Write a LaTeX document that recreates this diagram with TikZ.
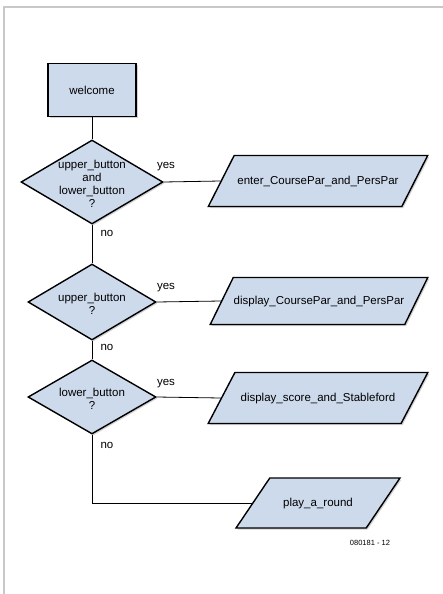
\documentclass[tikz,border=0pt]{standalone}
\usepackage{fontspec}
\setmainfont{Liberation Sans}
\usepackage{tikz}
\usetikzlibrary{shapes.geometric,shadows}
\definecolor{boxfill}{HTML}{CDDAEC}
\definecolor{framegray}{HTML}{C8C8C8}
\newcommand\askgap{\rule{0pt}{0pt}\\[-1pt]}
\tikzset{
  shadowed/.style={draw, line width=1.4pt, fill=boxfill,
    drop shadow={shadow xshift=1.5pt, shadow yshift=-1.5pt, fill=black!35}},
  actbox/.style={shadowed, rectangle, minimum width=88pt, minimum height=53pt, inner sep=0pt},
  ask/.style={shadowed, diamond, shape aspect=1.7, inner sep=-10pt, align=center},
  io/.style={shadowed, trapezium, trapezium left angle=64, trapezium right angle=116,
    trapezium stretches=true, inner xsep=0pt, text height=8.5pt, text depth=2.5pt},
  wire/.style={line width=0.8pt},
  tag/.style={inner sep=0pt}
}
\begin{document}
\begin{tikzpicture}[x=1pt, y=-1pt, font=\fontsize{11.5}{13}\selectfont]
            \useasboundingbox (0,0) rectangle (443,594);
            % Frame
            \draw[framegray, line width=2pt] (4,594) -- (4,7) -- (443,7);
            
            % Left column - decisions
            \node[actbox] (welcome) at (92,90) {welcome};
            \node[ask, minimum width=142pt, minimum height=84pt] (both) at (92,182) {\askgap upper\_button\\and\\lower\_button\\?};
            \node[ask, minimum width=128pt, minimum height=76pt] (upper) at (92,302) {\askgap upper\_button\\?};
            \node[ask, minimum width=128pt, minimum height=74pt] (lower) at (92,397) {\askgap lower\_button\\?};
            
            % Right column - actions
            \node[io, inner ysep=20pt, minimum width=220pt] (enter) at (318,181) {enter\_CoursePar\_and\_PersPar};
            \node[io, inner ysep=18pt, minimum width=218pt] (showpar) at (319,301) {display\_CoursePar\_and\_PersPar};
            \node[io, inner ysep=20pt, minimum width=220pt] (score) at (318,398) {display\_score\_and\_Stableford};
            \node[io, inner ysep=19.5pt, minimum width=164pt] (play) at (318,503) {play\_a\_round};
            
            % Connectors
            \draw[wire] (welcome) -- (both);
            \draw[wire] (both) -- (upper);
            \draw[wire] (upper) -- (lower);
            \draw[wire] (both.east) -- (enter.west);
            \draw[wire] (upper.east) -- (showpar.west);
            \draw[wire] (lower.east) -- (score.west);
            \draw[wire] (lower.south) |- (play.west);
            
            % Labels
            \node[tag] (yes1) at (166,167) {yes};
            \node[tag] (yes2) at (166,288) {yes};
            \node[tag] (yes3) at (166,384) {yes};
            \node[tag] (no1) at (107,233) {no};
            \node[tag] (no2) at (107,347) {no};
            \node[tag] (no3) at (107,445) {no};
            \node[inner sep=0pt, font=\fontsize{7.5}{8}\selectfont] (code) at (370,543) {080181 - 12};
        \end{tikzpicture}
\end{document}
